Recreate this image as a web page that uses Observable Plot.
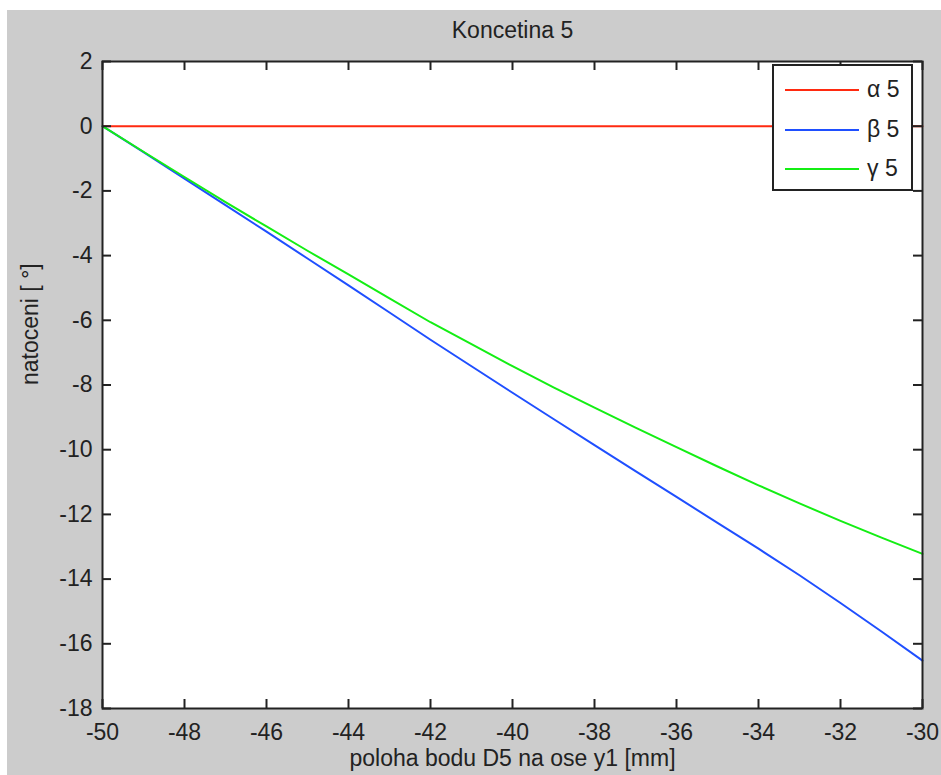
<!DOCTYPE html>
<html>
<head>
<meta charset="utf-8">
<script src="https://cdn.jsdelivr.net/npm/d3@7"></script>
<script src="https://cdn.jsdelivr.net/npm/@observablehq/plot@0.6"></script>
<style>
  html, body { margin: 0; padding: 0; background: #ffffff; }
  #wrap { position: relative; width: 941px; height: 775px; overflow: hidden; }
  #bg { position: absolute; left: 7px; top: 10px; width: 934px; height: 765px; background: #cccccc; }
  #chart { position: absolute; left: 0; top: 0; }
  #legend { position: absolute; left: 772px; top: 64px; width: 141px; height: 127px; box-sizing: border-box;
            background: #ffffff; border: 2px solid #222; font-family: "Liberation Sans", Arial, sans-serif; font-size: 23px; color: #222; }
  .row { position: absolute; left: 0; width: 100%; height: 30px; }
  .sw { position: absolute; left: 11px; width: 74px; height: 2px; top: 14px; }
  .lb { position: absolute; left: 93px; top: 1px; line-height: 26px; white-space: pre; }
</style>
</head>
<body>
<div id="wrap">
  <div id="bg"></div>
  <div id="chart"></div>
  <div id="legend"></div>
</div>
<script>
// ---- data ----
const xVals = [-50, -49, -48, -47, -46, -45, -44, -43, -42, -41, -40, -39, -38, -37, -36, -35, -34, -33, -32, -31, -30];
const alpha5 = [0, 0, 0, 0, 0, 0, 0, 0, 0, 0, 0, 0, 0, 0, 0, 0, 0, 0, 0, 0, 0];
const beta5 = [0, -0.80, -1.62, -2.44, -3.26, -4.09, -4.92, -5.76, -6.60, -7.42, -8.24, -9.05, -9.86, -10.66, -11.46, -12.26, -13.06, -13.88, -14.74, -15.62, -16.52];
const gamma5 = [0, -0.79, -1.57, -2.35, -3.10, -3.85, -4.58, -5.32, -6.06, -6.74, -7.42, -8.07, -8.70, -9.32, -9.92, -10.52, -11.10, -11.66, -12.20, -12.72, -13.22];
const seriesNames = ["\u03b1 5", "\u03b2 5", "\u03b3 5"];
const seriesColors = ["#ff2a10", "#1f4fff", "#14ee14"];
const xTicks = [-50, -48, -46, -44, -42, -40, -38, -36, -34, -32, -30];
const yTicks = [2, 0, -2, -4, -6, -8, -10, -12, -14, -16, -18];
const titleText = "Koncetina 5";
const xLabel = "poloha bodu D5 na ose y1 [mm]";
const yLabel = "natoceni [ \u00b0]";

const seriesValues = [alpha5, beta5, gamma5];
const rows = [];
seriesValues.forEach((vals, s) => vals.forEach((v, i) => rows.push({x: xVals[i], y: v, s: seriesNames[s]})));

const W = 941, H = 775, ML = 102, MR = 19, MT = 61, MB = 67;
const FW = W - ML - MR, FH = H - MT - MB;
const TL = 9;
const ink = "#222";
const font = "'Liberation Sans', Arial, sans-serif";

const chart = Plot.plot({
  width: W, height: H,
  marginLeft: ML, marginRight: MR, marginTop: MT, marginBottom: MB,
  style: {background: "transparent", fontFamily: font, fontSize: "23px", color: ink},
  x: {domain: [-50, -30]},
  y: {domain: [-18, 2]},
  color: {domain: seriesNames, range: seriesColors},
  marks: [
    Plot.frame({fill: "white", stroke: "none"}),
    Plot.line(rows, {x: "x", y: "y", z: "s", stroke: "s", strokeWidth: 2}),
    Plot.axisX(xTicks, {anchor: "bottom", tickSize: 0, tickPadding: 15, tickFormat: d => String(d), fontSize: 23, fill: ink, label: null}),
    Plot.axisY(yTicks, {anchor: "left", tickSize: 0, tickPadding: 10, tickFormat: d => String(d), fontSize: 23, fill: ink, label: null}),
    Plot.tickX(xTicks, {x: d => d, insetTop: FH - TL, stroke: ink, strokeWidth: 2}),
    Plot.tickX(xTicks, {x: d => d, insetBottom: FH - TL, stroke: ink, strokeWidth: 2}),
    Plot.tickY(yTicks, {y: d => d, insetRight: FW - TL, stroke: ink, strokeWidth: 2}),
    Plot.tickY(yTicks, {y: d => d, insetLeft: FW - TL, stroke: ink, strokeWidth: 2}),
    Plot.frame({stroke: ink, strokeWidth: 2}),
    Plot.text([titleText], {frameAnchor: "top", dy: -31, text: d => d, fontSize: 23, fill: ink, lineAnchor: "middle"}),
    Plot.text([xLabel], {frameAnchor: "bottom", dy: 50.5, text: d => d, fontSize: 23, fill: ink, lineAnchor: "middle"}),
    Plot.text([yLabel], {frameAnchor: "left", dx: -71.5, rotate: -90, text: d => d, fontSize: 23, fill: ink, lineAnchor: "middle"})
  ]
});
document.getElementById("chart").appendChild(chart);

// legend
const leg = document.getElementById("legend");
const rowTops = [9, 49, 88];
seriesNames.forEach((n, i) => {
  const r = document.createElement("div");
  r.className = "row";
  r.style.top = rowTops[i] + "px";
  const sw = document.createElement("div");
  sw.className = "sw";
  sw.style.background = seriesColors[i];
  const lb = document.createElement("div");
  lb.className = "lb";
  lb.textContent = n;
  r.appendChild(sw); r.appendChild(lb);
  leg.appendChild(r);
});
</script>
</body>
</html>
